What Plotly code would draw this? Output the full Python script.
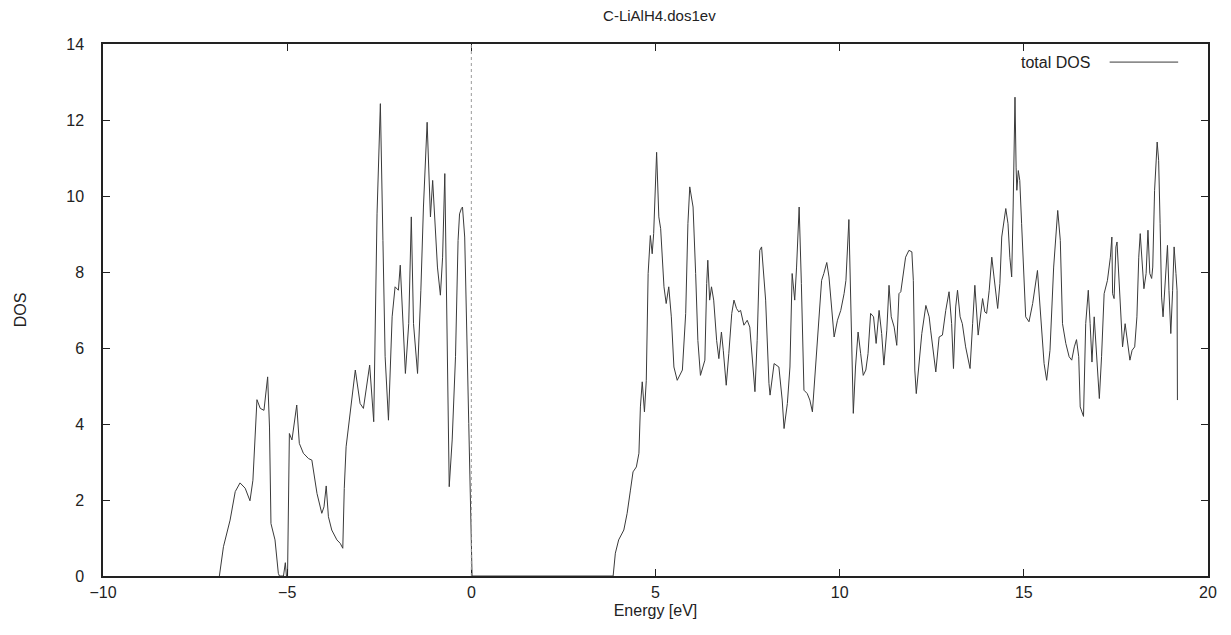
import plotly.graph_objects as go

title_text = "C-LiAlH4.dos1ev"
series_name = "total DOS"

energy = [
    -6.84, -6.73, -6.55, -6.41, -6.28, -6.14, -6.01, -5.93, -5.82, -5.73, -5.63, -5.53, -5.48, -5.44,
    -5.33, -5.24, -5.21, -5.10, -5.05, -5.02, -4.99, -4.94, -4.87, -4.74, -4.67, -4.56, -4.42, -4.33,
    -4.19, -4.06, -4.00, -3.94, -3.88, -3.79, -3.65, -3.56, -3.49, -3.45, -3.40, -3.29, -3.15, -3.02,
    -2.93, -2.76, -2.65, -2.56, -2.47, -2.40, -2.34, -2.25, -2.15, -2.07, -1.98, -1.93, -1.86, -1.79,
    -1.70, -1.63, -1.57, -1.46, -1.37, -1.30, -1.20, -1.14, -1.11, -1.05, -0.98, -0.92, -0.84, -0.78,
    -0.72, -0.66, -0.60, -0.52, -0.43, -0.36, -0.32, -0.27, -0.24, -0.18, -0.12, -0.07, 0.02,
    3.85, 3.91, 4.00, 4.14, 4.23, 4.32, 4.39, 4.48, 4.55, 4.59, 4.64, 4.70, 4.75, 4.80, 4.86, 4.91,
    4.95, 5.03, 5.09, 5.14, 5.18, 5.23, 5.29, 5.36, 5.43, 5.50, 5.59, 5.73, 5.82, 5.88, 5.93, 6.02,
    6.09, 6.15, 6.22, 6.29, 6.34, 6.39, 6.42, 6.47, 6.52, 6.58, 6.66, 6.72, 6.79, 6.84, 6.92, 6.99,
    7.07, 7.13, 7.20, 7.26, 7.31, 7.40, 7.49, 7.56, 7.63, 7.70, 7.76, 7.83, 7.88, 7.99, 8.08, 8.11,
    8.22, 8.35, 8.44, 8.49, 8.58, 8.65, 8.71, 8.78, 8.83, 8.90, 8.96, 9.03, 9.12, 9.19, 9.26, 9.35,
    9.44, 9.51, 9.57, 9.65, 9.71, 9.77, 9.85, 9.94, 10.03, 10.12, 10.17, 10.25, 10.30, 10.34, 10.37,
    10.43, 10.50, 10.57, 10.64, 10.71, 10.77, 10.84, 10.92, 10.99, 11.07, 11.14, 11.20, 11.28, 11.34,
    11.40, 11.48, 11.55, 11.61, 11.66, 11.79, 11.88, 11.96, 12.00, 12.04, 12.08, 12.16, 12.23, 12.34,
    12.43, 12.47, 12.61, 12.70, 12.79, 12.88, 12.97, 13.04, 13.09, 13.15, 13.20, 13.27, 13.33, 13.42,
    13.54, 13.61, 13.67, 13.76, 13.81, 13.88, 13.94, 13.99, 14.06, 14.13, 14.19, 14.29, 14.35, 14.40,
    14.51, 14.57, 14.62, 14.67, 14.71, 14.74, 14.76, 14.79, 14.81, 14.85, 14.89, 14.94, 14.99, 15.05,
    15.14, 15.24, 15.37, 15.46, 15.55, 15.62, 15.71, 15.81, 15.92, 15.99, 16.05, 16.14, 16.23, 16.30,
    16.37, 16.43, 16.49, 16.53, 16.62, 16.68, 16.75, 16.80, 16.85, 16.91, 16.96, 17.05, 17.11, 17.18,
    17.27, 17.35, 17.39, 17.41, 17.45, 17.50, 17.53, 17.59, 17.64, 17.68, 17.75, 17.80, 17.88, 17.94,
    18.01, 18.07, 18.12, 18.16, 18.21, 18.26, 18.32, 18.37, 18.42, 18.47, 18.50, 18.55, 18.62, 18.66,
    18.70, 18.74, 18.78, 18.83, 18.90, 18.94, 18.99, 19.04, 19.08, 19.13, 19.16, 19.17,
]

dos = [
    0.00, 0.77, 1.47, 2.22, 2.45, 2.31, 1.98, 2.52, 4.64, 4.41, 4.36, 5.24, 3.92, 1.38,
    0.95, 0.07, 0.00, 0.00, 0.35, 0.00, 0.00, 3.75, 3.58, 4.50, 3.49, 3.23, 3.09, 3.05,
    2.17, 1.65, 1.82, 2.37, 1.56, 1.21, 0.95, 0.86, 0.73, 2.30, 3.40, 4.36, 5.42, 4.54,
    4.41, 5.55, 4.06, 9.53, 12.43, 8.83, 5.77, 4.10, 6.82, 7.61, 7.52, 8.18, 6.64, 5.33,
    6.64, 9.45, 6.64, 5.33, 7.52, 9.71, 11.94, 10.15, 9.45, 10.41, 9.27, 8.13, 7.39, 8.39,
    10.59, 6.64, 2.35, 3.58, 5.77, 8.83, 9.53, 9.67, 9.71, 8.92, 6.64, 4.01, 0.00,
    0.00, 0.60, 0.95, 1.21, 1.65, 2.26, 2.74, 2.87, 3.23, 4.45, 5.11, 4.32, 5.15, 7.96, 8.96, 8.48,
    9.01, 11.15, 9.45, 9.14, 8.57, 7.61, 7.17, 7.61, 6.82, 5.50, 5.15, 5.42, 6.91, 9.27, 10.24, 9.71,
    7.96, 6.20, 5.28, 5.50, 5.68, 7.70, 8.31, 7.26, 7.61, 7.26, 6.20, 5.72, 6.42, 5.94, 5.02, 5.85,
    6.91, 7.26, 7.04, 6.95, 6.99, 6.60, 6.73, 6.55, 5.77, 4.85, 6.20, 8.57, 8.66, 7.26, 5.07, 4.76,
    5.59, 5.50, 4.63, 3.88, 4.54, 5.50, 7.96, 7.26, 8.13, 9.71, 7.70, 4.89, 4.80, 4.63, 4.32, 5.50,
    6.82, 7.78, 7.96, 8.25, 7.87, 7.08, 6.29, 6.73, 6.99, 7.43, 7.78, 9.38, 7.26, 5.07, 4.28,
    5.50, 6.42, 5.85, 5.28, 5.42, 5.85, 6.91, 6.82, 6.12, 6.99, 6.38, 5.55, 6.47, 7.65,
    6.82, 6.55, 6.07, 7.43, 7.48, 8.39, 8.57, 8.53, 7.78, 5.42, 4.80, 5.59, 6.38, 7.12,
    6.82, 6.47, 5.37, 6.29, 6.34, 6.99, 7.48, 6.64, 5.46, 7.08, 7.52, 6.82, 6.64, 6.03,
    5.46, 6.64, 7.65, 6.34, 6.82, 7.30, 6.95, 6.91, 7.52, 8.39, 7.87, 7.04, 7.70, 8.92,
    9.67, 9.27, 8.39, 7.87, 9.71, 11.72, 12.60, 10.76, 10.15, 10.67, 10.41, 9.27, 7.96, 6.82,
    6.69, 7.17, 8.04, 6.91, 5.59, 5.15, 5.94, 8.13, 9.62, 8.83, 6.64, 6.12, 5.77, 5.68,
    6.03, 6.22, 5.77, 4.45, 4.20, 6.64, 7.52, 6.64, 5.63, 6.82, 5.94, 4.67, 5.77, 7.43,
    7.78, 8.39, 8.92, 7.43, 7.30, 8.66, 8.79, 7.70, 6.55, 6.03, 6.64, 6.29, 5.68, 5.94,
    6.03, 6.82, 8.39, 9.01, 8.22, 7.56, 7.96, 9.10, 7.96, 7.83, 8.13, 10.15, 11.42, 10.94,
    9.27, 7.34, 6.82, 7.52, 8.70, 7.52, 6.38, 7.52, 8.66, 7.96, 7.52, 4.63,
]

x_ticks = [-10, -5, 0, 5, 10, 15, 20]
y_ticks = [0, 2, 4, 6, 8, 10, 12, 14]

FONT = "Liberation Sans, Arial, Helvetica, sans-serif"
TXT = "#222"

fig = go.Figure()
fig.add_trace(go.Scatter(
    x=energy, y=dos, mode="lines", name=series_name,
    line=dict(color="#3a3a3a", width=1), showlegend=False,
))

fig.add_vline(x=0, line=dict(color="#9a9a9a", width=1, dash="dot"))

# gnuplot-style key: text then line sample
fig.add_annotation(x=0.895, y=0.966, xref="paper", yref="paper", text=series_name,
                   showarrow=False, xanchor="right", yanchor="middle",
                   font=dict(family=FONT, size=16, color=TXT))
fig.add_shape(type="line", xref="paper", yref="paper", x0=0.911, x1=0.973, y0=0.966, y1=0.966,
              line=dict(color="#3a3a3a", width=1))

axis_common = dict(
    showline=True, linecolor="#222", linewidth=1.5, mirror="ticks",
    ticks="inside", ticklen=7, tickwidth=1, tickcolor="#222",
    showgrid=False, zeroline=False,
    tickfont=dict(family=FONT, size=16, color=TXT),
)

fig.update_layout(
    width=1223, height=627,
    paper_bgcolor="white", plot_bgcolor="white",
    margin=dict(l=95, r=23, t=36, b=59),
    title=dict(text=title_text, x=0.5326, xanchor="center", y=0.988, yanchor="middle",
               font=dict(family=FONT, size=15, color=TXT)),
    xaxis=dict(range=[-10, 20], tickvals=x_ticks, ticklabelstandoff=1,
               title=dict(text="Energy [eV]", font=dict(family=FONT, size=16, color=TXT), standoff=5),
               **axis_common),
    yaxis=dict(range=[0, 14], tickvals=y_ticks, ticklabelstandoff=14,
               title=dict(text="DOS", font=dict(family=FONT, size=16, color=TXT), standoff=36),
               **axis_common),
)

fig.write_html("out.html")
